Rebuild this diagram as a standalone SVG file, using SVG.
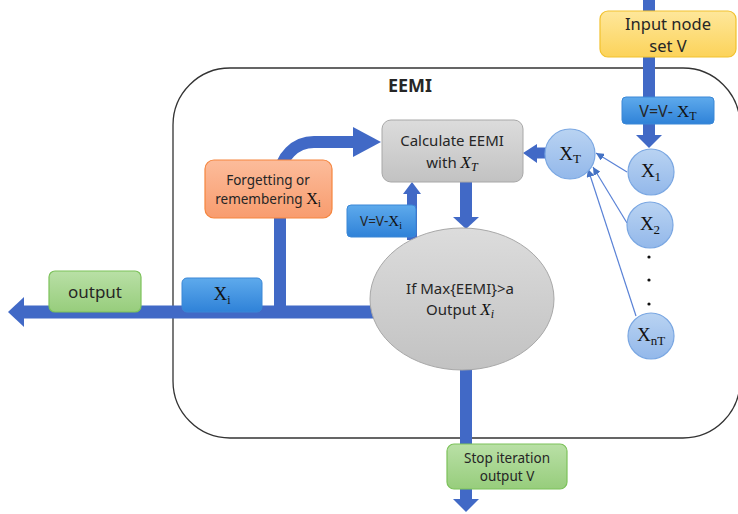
<svg xmlns="http://www.w3.org/2000/svg" width="738" height="514" viewBox="0 0 738 514">
<defs>
<linearGradient id="gY" x1="0" y1="0" x2="0" y2="1"><stop offset="0" stop-color="#fee79b"/><stop offset="1" stop-color="#fcd35a"/></linearGradient>
<linearGradient id="gB" x1="0" y1="0" x2="0" y2="1"><stop offset="0" stop-color="#5eaaec"/><stop offset="1" stop-color="#2f82d8"/></linearGradient>
<linearGradient id="gG" x1="0" y1="0" x2="0" y2="1"><stop offset="0" stop-color="#dcdcdc"/><stop offset="1" stop-color="#c2c2c2"/></linearGradient>
<linearGradient id="gO" x1="0" y1="0" x2="0" y2="1"><stop offset="0" stop-color="#fcbc9b"/><stop offset="1" stop-color="#f89c6e"/></linearGradient>
<linearGradient id="gN" x1="0" y1="0" x2="0" y2="1"><stop offset="0" stop-color="#b9e0a6"/><stop offset="1" stop-color="#97cd7c"/></linearGradient>
<linearGradient id="gC" x1="0" y1="0" x2="0" y2="1"><stop offset="0" stop-color="#b9d3f2"/><stop offset="1" stop-color="#93b8ea"/></linearGradient>
<marker id="thin" markerUnits="userSpaceOnUse" markerWidth="10" markerHeight="8" refX="8" refY="4" orient="auto"><path d="M0,0 L8,4 L0,8 z" fill="#4472c4"/></marker>
</defs>
<style>
.t{font-family:"Noto Sans","Open Sans",sans-serif;fill:#262626;text-anchor:middle}
.m{font-family:"Liberation Serif","DejaVu Serif",serif;fill:#111}
.thick{fill:none;stroke:#4169c6;stroke-width:12}
.head{fill:#4169c6}
.thinl{fill:none;stroke:#5a82d6;stroke-width:1.2}
.yel{fill:url(#gY);stroke:#f2c12e;stroke-width:1.2}
.blu{fill:url(#gB);stroke:#3a87d6;stroke-width:1}
.gry{fill:url(#gG);stroke:#a8a8a8;stroke-width:1}
.org{fill:url(#gO);stroke:#f5853e;stroke-width:1.2}
.grn{fill:url(#gN);stroke:#7cc25a;stroke-width:1.2}
.cir{fill:url(#gC);stroke:#7aa7e2;stroke-width:1.2}
</style>
<rect width="738" height="514" fill="#ffffff"/>

<g id="container">
<rect x="173" y="68" width="567" height="370" rx="57" ry="57" fill="none" stroke="#333" stroke-width="1.3"/>
<text class="t" x="410" y="92" font-size="18" font-weight="bold" fill="#111">EEMI</text>
</g>

<g id="connectors">
<line class="thick" x1="649" y1="0" x2="649" y2="136"/>
<polygon class="head" points="636,135 662,135 649,148"/>
<line class="thick" x1="547" y1="153" x2="536" y2="153" style="stroke-width:11"/>
<polygon class="head" points="537,144 537,163 523,153"/>
<line class="thick" x1="466" y1="182" x2="466" y2="218"/>
<polygon class="head" points="453,217 479,217 466,229"/>
<line class="thick" x1="412" y1="240" x2="412" y2="193" style="stroke-width:10"/>
<polygon class="head" points="403,194 421,194 412,182"/>
<line class="thick" x1="374" y1="312" x2="22" y2="312" style="stroke-width:13"/>
<polygon class="head" points="24,297 24,327 8,312"/>
<path class="thick" d="M280,306 V176 A34,34 0 0 1 314,142 H354"/>
<polygon class="head" points="353,127 353,157 381,142"/>
<line class="thick" x1="466" y1="369" x2="466" y2="500"/>
<polygon class="head" points="453,499 479,499 466,512"/>
<line class="thinl" x1="627" y1="172" x2="596" y2="153" marker-end="url(#thin)"/>
<line class="thinl" x1="627" y1="223" x2="593" y2="167" marker-end="url(#thin)"/>
<line class="thinl" x1="636" y1="316" x2="588" y2="169" marker-end="url(#thin)"/>
</g>

<g id="input">
<rect class="yel" x="600" y="11" width="136" height="46" rx="8"/>
<text class="t" x="668" y="30" font-size="16.5">Input node</text>
<text class="t" x="668" y="52" font-size="16.5">set V</text>
</g>

<g id="update-vt">
<rect class="blu" x="622" y="97" width="92" height="27" rx="4"/>
<text class="t" x="668" y="117" font-size="16">V=V- <tspan class="m" font-size="17">X</tspan><tspan class="m" font-size="12" dy="3">T</tspan></text>
</g>

<g id="xt">
<circle class="cir" cx="570" cy="154" r="25"/>
<text class="t m" x="570" y="160" font-size="19">X<tspan font-size="13" dy="3">T</tspan></text>
</g>
<g id="x1">
<circle class="cir" cx="651" cy="172" r="23"/>
<text class="t m" x="651" y="177" font-size="19">X<tspan font-size="13" dy="4">1</tspan></text>
</g>
<g id="x2">
<circle class="cir" cx="650" cy="225" r="23"/>
<text class="t m" x="650" y="230" font-size="19">X<tspan font-size="13" dy="4">2</tspan></text>
</g>
<g id="dots" fill="#111">
<circle cx="649" cy="257" r="1.6"/>
<circle cx="649" cy="280" r="1.6"/>
<circle cx="649" cy="304" r="1.6"/>
</g>
<g id="xnt">
<circle class="cir" cx="651" cy="336" r="23"/>
<text class="t m" x="651" y="341" font-size="19">X<tspan font-size="13" dy="4">nT</tspan></text>
</g>

<g id="calculate">
<rect class="gry" x="382" y="120" width="141" height="62" rx="9"/>
<text class="t" x="452" y="146" font-size="15">Calculate EEMI</text>
<text class="t" x="452" y="168" font-size="15">with <tspan class="m" font-style="italic" font-size="17">X</tspan><tspan class="m" font-style="italic" font-size="12" dy="3">T</tspan></text>
</g>

<g id="forgetting">
<rect class="org" x="205" y="160" width="127" height="58" rx="9"/>
<text class="t" x="268" y="185" font-size="13.5">Forgetting or</text>
<text class="t" x="268" y="204" font-size="13.5">remembering <tspan class="m" font-size="16">X</tspan><tspan class="m" font-size="11" dy="3">i</tspan></text>
</g>

<g id="update-vi">
<rect class="blu" x="347" y="205" width="69" height="32" rx="4"/>
<text class="t" x="381" y="226" font-size="13.5">V=V-<tspan class="m" font-size="15">X</tspan><tspan class="m" font-size="10" dy="3">i</tspan></text>
</g>

<g id="decision">
<ellipse cx="462" cy="299" rx="92" ry="71" fill="url(#gG)" stroke="#a8a8a8" stroke-width="1"/>
<text class="t" x="460" y="294" font-size="15">If Max{EEMI}&gt;a</text>
<text class="t" x="460" y="315" font-size="15">Output <tspan class="m" font-style="italic" font-size="17">X</tspan><tspan class="m" font-style="italic" font-size="12" dy="3">i</tspan></text>
</g>

<g id="xi">
<rect class="blu" x="182" y="278" width="80" height="34" rx="5"/>
<text class="t m" x="222" y="300" font-size="19">X<tspan font-size="12" dy="4">i</tspan></text>
</g>

<g id="output">
<rect class="grn" x="49" y="271" width="92" height="41" rx="6"/>
<text class="t" x="95" y="298" font-size="17">output</text>
</g>

<g id="stop">
<rect class="grn" x="447" y="444" width="120" height="45" rx="7"/>
<text class="t" x="507" y="463" font-size="13.5">Stop iteration</text>
<text class="t" x="507" y="481" font-size="13.5">output V</text>
</g>
</svg>
